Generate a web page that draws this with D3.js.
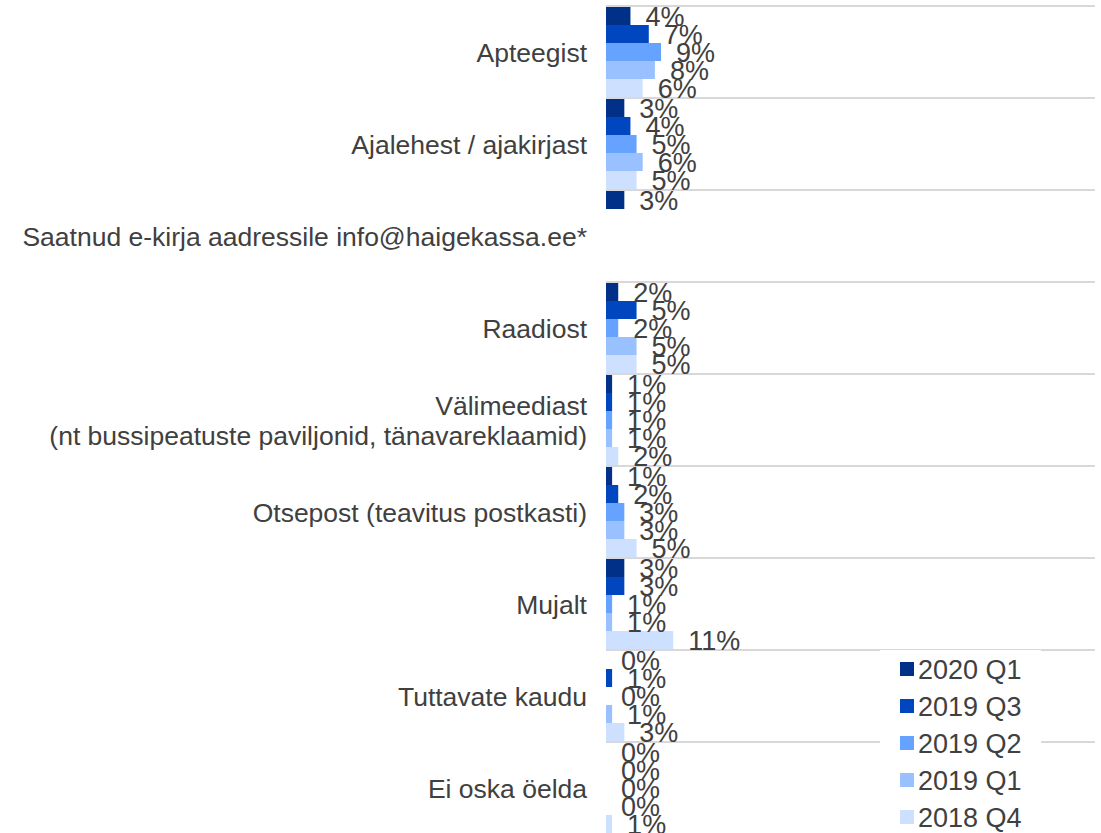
<!DOCTYPE html>
<html>
<head>
<meta charset="utf-8">
<script src="https://cdn.jsdelivr.net/npm/d3@7"></script>
<style>
  body { margin: 0; background: #fff; }
  svg { font-family: "Liberation Sans", Arial, sans-serif; }
</style>
</head>
<body>
<svg id="chart" width="1101" height="833"></svg>
<script>
// categories, top to bottom (each entry may hold two lines)
const categories = [
  ["Apteegist"],
  ["Ajalehest / ajakirjast"],
  ["Saatnud e-kirja aadressile info@haigekassa.ee*"],
  ["Raadiost"],
  ["Välimeediast", "(nt bussipeatuste paviljonid, tänavareklaamid)"],
  ["Otsepost (teavitus postkasti)"],
  ["Mujalt"],
  ["Tuttavate kaudu"],
  ["Ei oska öelda"]
];
const seriesNames = ["2020 Q1", "2019 Q3", "2019 Q2", "2019 Q1", "2018 Q4"];
const seriesColors = ["#003087", "#0047bf", "#66a2ff", "#99c1ff", "#cde0ff"];

// values in %, one array per series, same order as categories (null = not asked)
const q1_2020 = [4, 3, 3, 2, 1, 1, 3, 0, 0];
const q3_2019 = [7, 4, null, 5, 1, 2, 3, 1, 0];
const q2_2019 = [9, 5, null, 2, 1, 3, 1, 0, 0];
const q1_2019 = [8, 6, null, 5, 1, 3, 1, 1, 0];
const q4_2018 = [6, 5, null, 5, 2, 5, 11, 3, 1];
const seriesValues = [q1_2020, q3_2019, q2_2019, q1_2019, q4_2018];

const svg = d3.select("#chart");
const plotLeft = 606, plotRight = 1095, plotTop = 6, plotBottom = 834;

const x = d3.scaleLinear().domain([0, 80]).range([plotLeft, plotRight]);
const y = d3.scaleBand().domain(d3.range(categories.length)).range([plotTop, plotBottom]);
const ySub = d3.scaleBand().domain(d3.range(seriesNames.length))
  .range([1, y.bandwidth() - 1]);

// gridlines between categories
svg.append("g").selectAll("line")
  .data(d3.range(categories.length))
  .enter().append("line")
  .attr("x1", plotLeft).attr("x2", plotRight)
  .attr("y1", d => y(d)).attr("y2", d => y(d))
  .attr("stroke", "#cbcbcb").attr("stroke-width", 1.5);

// category labels
const catG = svg.append("g");
categories.forEach((lines, i) => {
  const cy = y(i) + y.bandwidth() / 2;
  const t = catG.append("text")
    .attr("text-anchor", "end")
    .attr("font-size", 26.5)
    .attr("fill", "#404040");
  lines.forEach((ln, j) => {
    t.append("tspan")
      .attr("x", 587)
      .attr("y", cy + 10 + (j - (lines.length - 1) / 2) * 30)
      .text(ln);
  });
});

// bars + value labels
const flat = [];
seriesValues.forEach((vals, s) => {
  vals.forEach((v, c) => { if (v !== null) flat.push({ s, c, v }); });
});

svg.append("g").selectAll("rect")
  .data(flat)
  .enter().append("rect")
  .attr("x", x(0))
  .attr("y", d => y(d.c) + ySub(d.s))
  .attr("width", d => x(d.v) - x(0))
  .attr("height", ySub.bandwidth())
  .attr("fill", d => seriesColors[d.s]);

svg.append("g").selectAll("text")
  .data(flat)
  .enter().append("text")
  .attr("x", d => x(d.v) + 15)
  .attr("y", d => y(d.c) + ySub(d.s) + ySub.bandwidth() / 2 + 10)
  .attr("font-size", 27)
  .attr("fill", "#404040")
  .text(d => d.v + "%");

// legend
const leg = svg.append("g");
leg.append("rect")
  .attr("x", 880).attr("y", 650)
  .attr("width", 161).attr("height", 183)
  .attr("fill", "#fff");
seriesNames.forEach((name, i) => {
  const cy = 669 + i * 37;
  leg.append("rect")
    .attr("x", 900).attr("y", cy - 7)
    .attr("width", 14).attr("height", 14)
    .attr("fill", seriesColors[i]);
  leg.append("text")
    .attr("x", 918).attr("y", cy + 9.5)
    .attr("font-size", 27)
    .attr("fill", "#404040")
    .text(name);
});
</script>
</body>
</html>
